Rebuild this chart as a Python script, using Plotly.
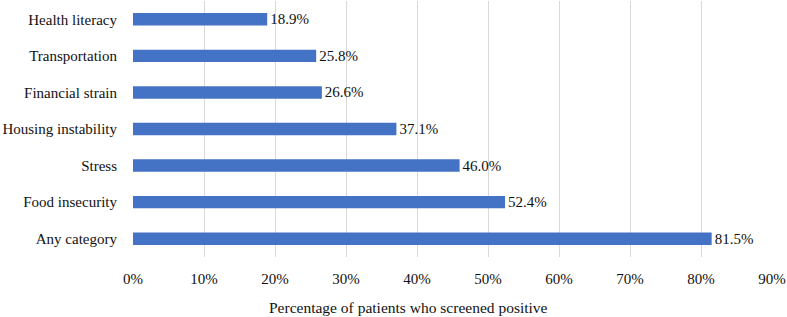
import plotly.graph_objects as go

categories = ["Any category", "Food insecurity", "Stress", "Housing instability",
              "Financial strain", "Transportation", "Health literacy"]
values = [81.5, 52.4, 46.0, 37.1, 26.6, 25.8, 18.9]
tick_vals = [0, 10, 20, 30, 40, 50, 60, 70, 80, 90]
tick_text = [f"{v}%" for v in tick_vals]
labels = [f"{v:.1f}%" for v in values]
x_title = "Percentage of patients who screened positive"

font = "'Liberation Serif', 'Times New Roman', Times, 'DejaVu Serif', serif"
fsize = 15
fcolor = "#111111"
tfont = dict(family=font, size=fsize, color=fcolor)

fig = go.Figure(go.Bar(
    x=values, y=categories, orientation="h",
    marker=dict(color="#4472C4", line=dict(width=0)),
    width=0.34,
    text=labels, textposition="outside", cliponaxis=False,
    constraintext="none", hoverinfo="skip",
    textfont=tfont,
))

fig.update_layout(
    width=787, height=317,
    margin=dict(l=133, r=15, t=1, b=60, autoexpand=False),
    paper_bgcolor="white", plot_bgcolor="white",
    font=tfont,
    showlegend=False,
    xaxis=dict(range=[0, 90], tickvals=tick_vals, ticktext=tick_text,
               showgrid=True, gridcolor="#D9D9D9", gridwidth=1,
               zeroline=False, showline=False, ticks="", tickfont=tfont,
               ticklabelstandoff=11, automargin=False),
    yaxis=dict(showgrid=False, zeroline=False, showline=False, ticks="", tickfont=tfont,
               ticklabelstandoff=15, automargin=False),
    annotations=[dict(text=x_title, x=(408 - 133) / 639, xref="paper", xanchor="center",
                      y=-(307 - 257) / 256, yref="paper", yanchor="middle",
                      showarrow=False, font=dict(family=font, size=15.5, color=fcolor))],
)

fig.write_html("out.html", config={"displayModeBar": False},
               post_script="document.body.style.margin='0';document.body.style.padding='0';")
